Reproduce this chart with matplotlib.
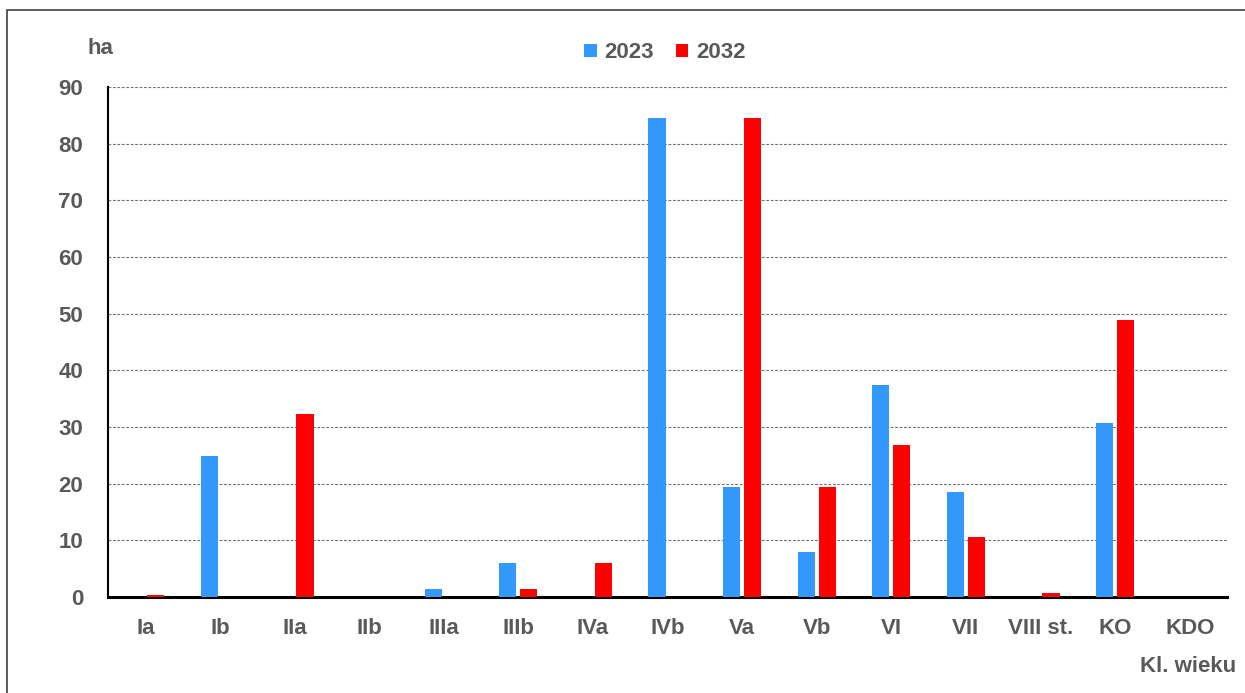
import numpy as np
import matplotlib
matplotlib.use("Agg")
import matplotlib.pyplot as plt
from matplotlib.patches import Rectangle

plt.rcParams['font.family'] = ['Liberation Sans', 'DejaVu Sans']
fs = 16

categories = ["Ia", "Ib", "IIa", "IIb", "IIIa", "IIIb", "IVa", "IVb",
              "Va", "Vb", "VI", "VII", "VIII st.", "KO", "KDO"]
area_2023 = [0, 24.9, 0, 0, 1.4, 6.0, 0, 84.5, 19.4, 7.9, 37.4, 18.5, 0, 30.7, 0]
area_2032 = [0.3, 0, 32.3, 0, 0, 1.4, 6.0, 0, 84.5, 19.4, 26.8, 10.6, 0.7, 48.9, 0]

txt = "#595959"
blue = "#3399FF"
red = "#FF0000"

fig = plt.figure(figsize=(12.45, 6.93), dpi=100)
ax = fig.add_axes([108 / 1245, 96 / 693, 1119 / 1245, 510 / 693])

x = np.arange(len(categories))
w = 0.23
off = 0.14
ax.bar(x - off, area_2023, w, color=blue, label="2023", zorder=3)
ax.bar(x + off, area_2032, w, color=red, label="2032", zorder=3)

ax.set_xlim(-0.5, len(categories) - 0.5)
ax.set_ylim(0, 90)
ax.set_yticks(range(0, 91, 10))
ax.yaxis.grid(True, linestyle=(0, (2.5, 1.5)), color="#707070", linewidth=0.8, zorder=0)
ax.set_xticks(x)
ax.set_xticklabels(categories)
ax.tick_params(axis="both", length=0, labelsize=fs, labelcolor=txt)
ax.tick_params(axis="x", pad=15)
ax.tick_params(axis="y", pad=18)
for lbl in ax.get_xticklabels() + ax.get_yticklabels():
    lbl.set_fontweight("bold")

for s in ["top", "right"]:
    ax.spines[s].set_visible(False)
ax.spines["left"].set_linewidth(1.5)
ax.spines["bottom"].set_linewidth(2.2)

fig.text(100 / 1245, 1 - 48 / 693, "ha", ha="center", va="center",
         fontsize=fs, fontweight="bold", color=txt)
fig.text(1236 / 1245, 1 - 666 / 693, "Kl. wieku", ha="right", va="center",
         fontsize=fs, fontweight="bold", color=txt)

leg = fig.legend(loc="center", bbox_to_anchor=(665 / 1245, 1 - 53 / 693), ncol=2,
                 frameon=False, handlelength=0.55, handleheight=0.55,
                 handletextpad=0.35, columnspacing=1.0,
                 prop={"size": fs, "weight": "bold"})
for t in leg.get_texts():
    t.set_color(txt)

# outer frame of the chart area
fig.patches.append(Rectangle((7 / 1245, -0.1), 1.2, 1 - 10 / 693 + 0.1,
                             transform=fig.transFigure, fill=False,
                             edgecolor="#404040", linewidth=1.2, clip_on=False))

fig.savefig("out.png", dpi=100)
